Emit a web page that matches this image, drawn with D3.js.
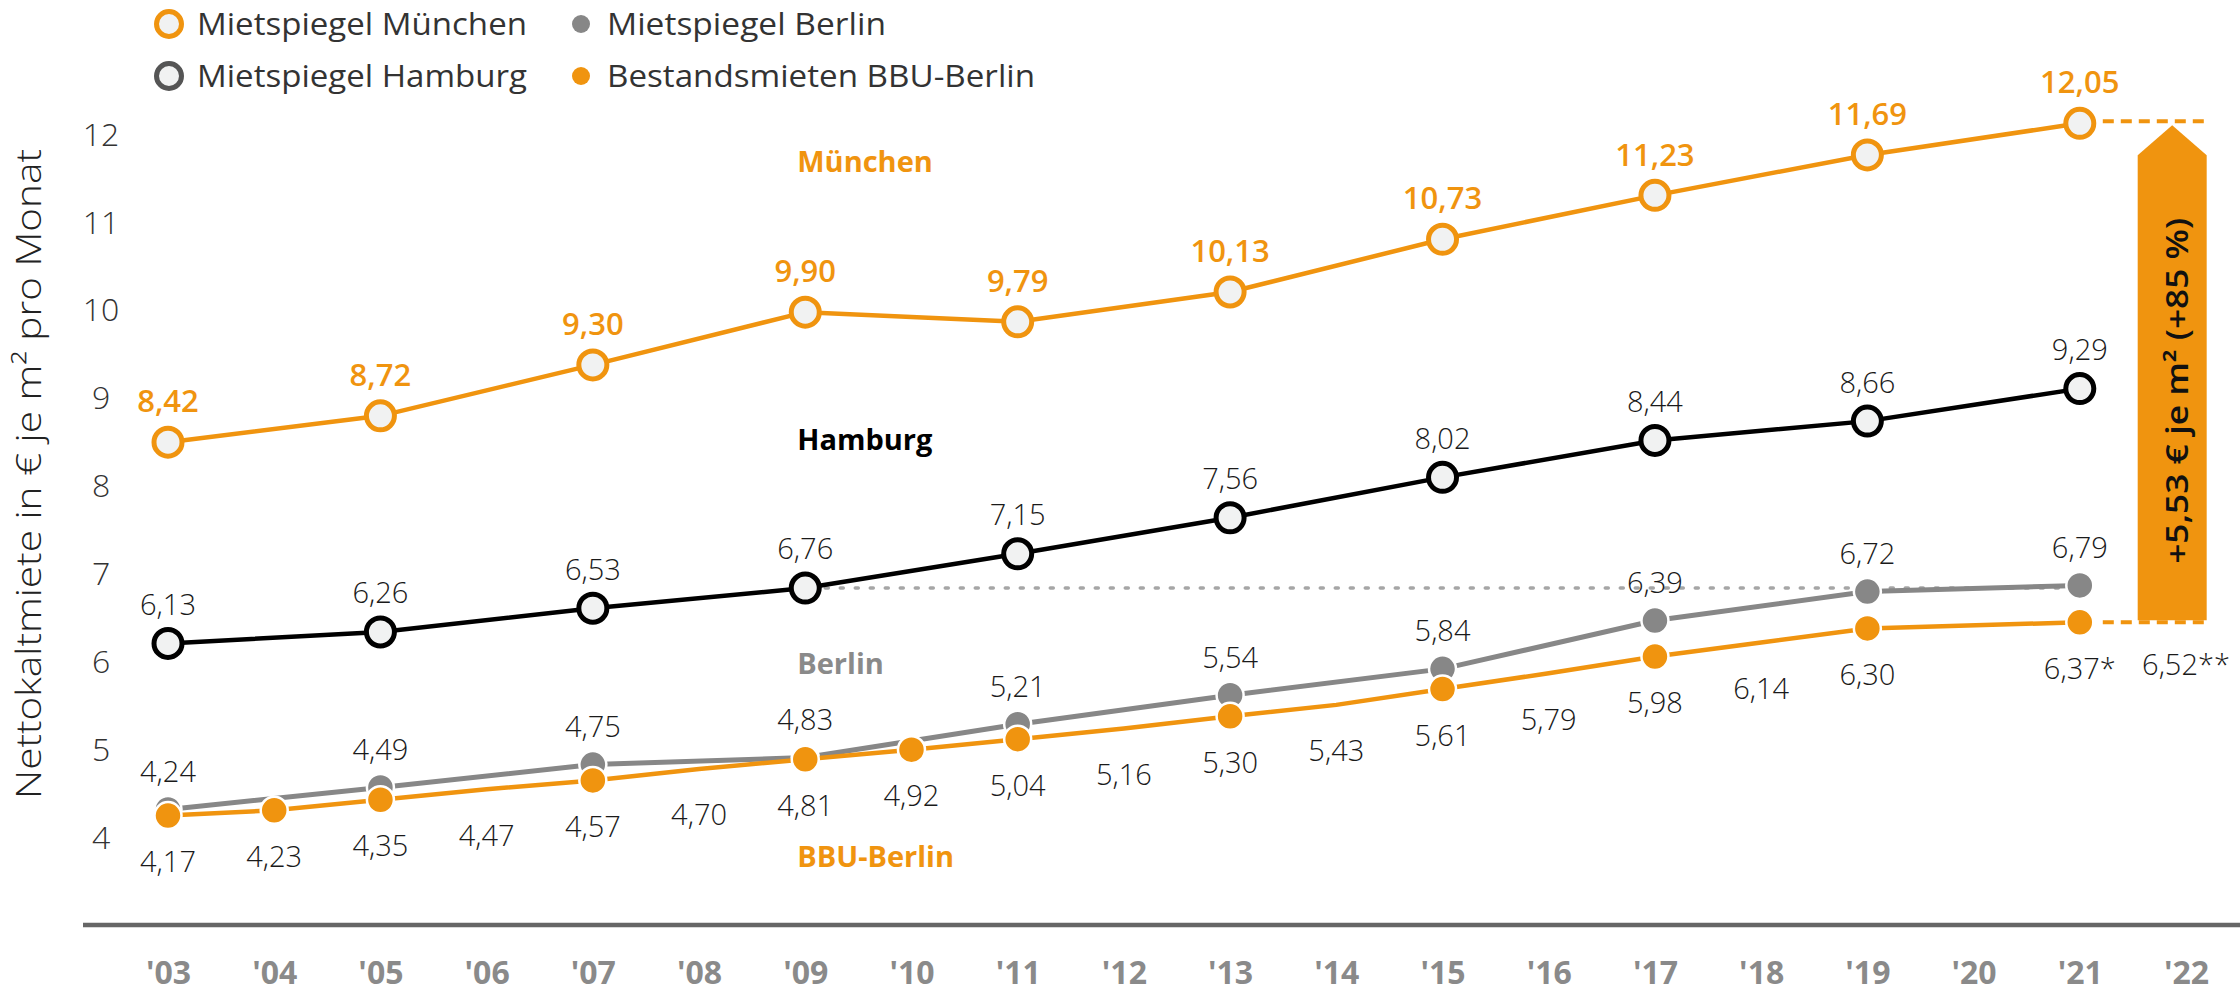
<!DOCTYPE html>
<html><head><meta charset="utf-8">
<script src="https://cdn.jsdelivr.net/npm/d3@7"></script>
<style>
html,body{margin:0;padding:0;background:#fff;}
svg{display:block;font-family:"Open Sans","Noto Sans",sans-serif;}
</style>
</head><body>
<svg id="chart" width="2240" height="995"></svg>
<script>
// ---------- data ----------
const years = ["'03","'04","'05","'06","'07","'08","'09","'10","'11","'12","'13","'14","'15","'16","'17","'18","'19","'20","'21","'22"];
const mietspiegelYears = ["'03","'05","'07","'09","'11","'13","'15","'17","'19","'21"];

const muenchenValues = [8.42, 8.72, 9.30, 9.90, 9.79, 10.13, 10.73, 11.23, 11.69, 12.05];
const muenchenLabels = ["8,42","8,72","9,30","9,90","9,79","10,13","10,73","11,23","11,69","12,05"];

const hamburgValues = [6.13, 6.26, 6.53, 6.76, 7.15, 7.56, 8.02, 8.44, 8.66, 9.03];
const hamburgLabels = ["6,13","6,26","6,53","6,76","7,15","7,56","8,02","8,44","8,66","9,29"];

const berlinValues = [4.24, 4.49, 4.75, 4.83, 5.21, 5.54, 5.84, 6.39, 6.72, 6.79];
const berlinLabels = ["4,24","4,49","4,75","4,83","5,21","5,54","5,84","6,39","6,72","6,79"];

const bbuYears = ["'03","'04","'05","'06","'07","'08","'09","'10","'11","'12","'13","'14","'15","'16","'17","'18","'19","'21"];
const bbuValues = [4.17, 4.23, 4.35, 4.47, 4.57, 4.70, 4.81, 4.92, 5.04, 5.16, 5.30, 5.43, 5.61, 5.79, 5.98, 6.14, 6.30, 6.37];
const bbuLabels = ["4,17","4,23","4,35","4,47","4,57","4,70","4,81","4,92","5,04","5,16","5,30","5,43","5,61","5,79","5,98","6,14","6,30","6,37*"];
const bbuMarkerYears = ["'03","'04","'05","'07","'09","'10","'11","'13","'15","'17","'19","'21"];

const bbuForecastYear = "'22";
const bbuForecastLabel = "6,52**";

const yTicks = [4, 5, 6, 7, 8, 9, 10, 11, 12];

const legendLabels = ["Mietspiegel München", "Mietspiegel Hamburg", "Mietspiegel Berlin", "Bestandsmieten BBU-Berlin"];
const seriesNames = ["München", "Hamburg", "Berlin", "BBU-Berlin"];
const arrowText = "+5,53 € je m² (+85 %)";
const yTitle = "Nettokaltmiete in € je m² pro Monat";

// ---------- style ----------
const ORANGE = "#F0940F";
const GRAY = "#878787";
const BLACK = "#000";
const FILL = "#f1f2f2";

const svg = d3.select("#chart");

const x = d3.scalePoint().domain(years).range([168, 2186]);
const y = d3.scaleLinear().domain([4, 12]).range([830.5, 127.7]);

// ---------- axes ----------
const yAxis = d3.axisLeft(y).tickValues(yTicks).tickSize(0).tickPadding(0).tickFormat(d3.format("d"));
const gy = svg.append("g").attr("transform", "translate(101,6)").call(yAxis);
gy.select(".domain").remove();
gy.selectAll("text")
  .attr("font-family", "'Open Sans', sans-serif")
  .attr("font-size", 32).attr("font-weight", 300).attr("fill", "#333")
  .attr("text-anchor", "middle")
  .attr("dy", "0.36em");

svg.append("line")
  .attr("x1", 83).attr("x2", 2240).attr("y1", 925).attr("y2", 925)
  .attr("stroke", "#666").attr("stroke-width", 4.5);

const xAxis = d3.axisBottom(x).tickSize(0).tickPadding(0);
const gx = svg.append("g").attr("transform", "translate(0,972)").call(xAxis);
gx.select(".domain").remove();
gx.selectAll("text")
  .attr("font-family", "'Open Sans', sans-serif")
  .attr("font-size", 32).attr("font-weight", 700).attr("fill", "#8a8a8a")
  .attr("y", 0).attr("dy", "0.36em");

svg.append("text")
  .attr("transform", `translate(27,474) rotate(-90)`)
  .attr("text-anchor", "middle").attr("dominant-baseline", "central")
  .attr("font-size", 35).attr("font-weight", 300).attr("fill", "#222")
  .attr("textLength", 650).attr("lengthAdjust", "spacingAndGlyphs")
  .text(yTitle);

// ---------- helpers ----------
const zip = (ys, vs, ls) => ys.map((yr, i) => ({year: yr, value: vs[i], label: ls[i]}));
const muenchen = zip(mietspiegelYears, muenchenValues, muenchenLabels);
const hamburg = zip(mietspiegelYears, hamburgValues, hamburgLabels);
const berlin = zip(mietspiegelYears, berlinValues, berlinLabels);
const bbu = zip(bbuYears, bbuValues, bbuLabels);

const line = d3.line().x(d => x(d.year)).y(d => y(d.value));

// dotted reference line: Hamburg 2009 level
const ham09 = hamburg.find(d => d.year === "'09");
svg.append("line")
  .attr("x1", x("'09") + 20).attr("x2", x("'21") - 10)
  .attr("y1", y(ham09.value)).attr("y2", y(ham09.value))
  .attr("stroke", "#a6a6a6").attr("stroke-width", 3.5)
  .attr("stroke-dasharray", "3,12").attr("stroke-linecap", "round");

// ---------- Berlin (Mietspiegel) ----------
svg.append("path").datum(berlin).attr("d", line)
  .attr("fill", "none").attr("stroke", GRAY).attr("stroke-width", 5);
svg.selectAll(".berlinDot").data(berlin).join("circle")
  .attr("cx", d => x(d.year)).attr("cy", d => y(d.value)).attr("r", 13.5)
  .attr("fill", GRAY).attr("stroke", "#fff").attr("stroke-width", 2.5);

// ---------- BBU ----------
svg.append("path").datum(bbu).attr("d", line)
  .attr("fill", "none").attr("stroke", ORANGE).attr("stroke-width", 4.5);
svg.selectAll(".bbuDot").data(bbu.filter(d => bbuMarkerYears.includes(d.year))).join("circle")
  .attr("cx", d => x(d.year)).attr("cy", d => y(d.value)).attr("r", 13.5)
  .attr("fill", ORANGE).attr("stroke", "#fff").attr("stroke-width", 2.5);

// ---------- Hamburg ----------
svg.append("path").datum(hamburg).attr("d", line)
  .attr("fill", "none").attr("stroke", BLACK).attr("stroke-width", 4.5);
svg.selectAll(".hamDot").data(hamburg).join("circle")
  .attr("cx", d => x(d.year)).attr("cy", d => y(d.value)).attr("r", 14)
  .attr("fill", FILL).attr("stroke", BLACK).attr("stroke-width", 5);

// ---------- München ----------
svg.append("path").datum(muenchen).attr("d", line)
  .attr("fill", "none").attr("stroke", ORANGE).attr("stroke-width", 4.5);
svg.selectAll(".muDot").data(muenchen).join("circle")
  .attr("cx", d => x(d.year)).attr("cy", d => y(d.value)).attr("r", 14)
  .attr("fill", FILL).attr("stroke", ORANGE).attr("stroke-width", 5);

// ---------- data labels ----------
function labels(data, dyCenter, color, size, weight) {
  svg.append("g").selectAll("text").data(data).join("text")
    .attr("x", d => x(d.year)).attr("y", d => y(d.value) + dyCenter)
    .attr("dy", "0.36em").attr("text-anchor", "middle")
    .attr("font-size", size).attr("font-weight", weight).attr("fill", color)
    .text(d => d.label);
}
labels(muenchen, -41, ORANGE, 31, 600);
labels(hamburg, -39, "#1a1a1a", 29, 300);
labels(berlin, -38, "#1a1a1a", 29, 300);
labels(bbu, 46, "#1a1a1a", 29, 300);

// ---------- annotation: dashed guides + arrow ----------
const mu21 = muenchen[muenchen.length - 1];
const bb21 = bbu[bbu.length - 1];
const step = x.step();
const arrowCx = x(bbuForecastYear) - 0.13 * step;
const arrowHalf = 34.5;
const arrowRight = arrowCx + arrowHalf;

[[mu21, y(mu21.value) - 2], [bb21, y(bb21.value)]].forEach(([d, yy]) => {
  svg.append("line")
    .attr("x1", x(d.year) + 23).attr("x2", arrowRight)
    .attr("y1", yy).attr("y2", yy)
    .attr("stroke", ORANGE).attr("stroke-width", 4)
    .attr("stroke-dasharray", "11,7");
});

const tipY = y(mu21.value) + 2;
const shoulderY = tipY + 30;
const baseY = y(bb21.value) - 2;
svg.append("path")
  .attr("d", `M${arrowCx},${tipY} L${arrowRight},${shoulderY} L${arrowRight},${baseY} L${arrowCx - arrowHalf},${baseY} L${arrowCx - arrowHalf},${shoulderY} Z`)
  .attr("fill", ORANGE);

svg.append("text")
  .attr("transform", `translate(${arrowCx + 4},${(shoulderY + baseY) / 2 + 3}) rotate(-90)`)
  .attr("text-anchor", "middle").attr("dominant-baseline", "central")
  .attr("font-size", 30).attr("font-weight", 600).attr("fill", "#111")
  .attr("textLength", 346).attr("lengthAdjust", "spacingAndGlyphs")
  .text(arrowText);

svg.append("text")
  .attr("x", x(bbuForecastYear)).attr("y", y(bb21.value) + 42)
  .attr("dy", "0.36em").attr("text-anchor", "middle")
  .attr("font-size", 29).attr("font-weight", 300).attr("fill", "#1a1a1a")
  .text(bbuForecastLabel);

// ---------- series names ----------
const nameX = x("'09") - 8;
const nameLevels = [11.62, 8.45, 5.895, 3.70];
const nameColors = [ORANGE, "#000", "#8a8a8a", ORANGE];
svg.append("g").selectAll("text").data(seriesNames).join("text")
  .attr("x", nameX).attr("y", (d, i) => y(nameLevels[i]))
  .attr("dy", "0.36em")
  .attr("font-size", 29).attr("font-weight", 700)
  .attr("fill", (d, i) => nameColors[i])
  .text(d => d);

// ---------- legend ----------
const legend = [
  {label: legendLabels[0], col: 0, row: 0, type: "ring", color: ORANGE},
  {label: legendLabels[1], col: 0, row: 1, type: "ring", color: "#555"},
  {label: legendLabels[2], col: 1, row: 0, type: "dot", color: GRAY},
  {label: legendLabels[3], col: 1, row: 1, type: "dot", color: ORANGE}
];
const legendLen = [330, 330, 279, 428];
const colX = [169, 581];
const textX = [197, 607];
const rowY = [24, 76];
const lg = svg.append("g");
legend.forEach((d, i) => {
  if (d.type === "ring") {
    lg.append("circle").attr("cx", colX[d.col]).attr("cy", rowY[d.row]).attr("r", 12.5)
      .attr("fill", FILL).attr("stroke", d.color).attr("stroke-width", 5);
  } else {
    lg.append("circle").attr("cx", colX[d.col]).attr("cy", rowY[d.row]).attr("r", 9)
      .attr("fill", d.color);
  }
  lg.append("text").attr("x", textX[d.col]).attr("y", rowY[d.row]).attr("dy", "0.34em")
    .attr("font-size", 31).attr("fill", "#333")
    .attr("textLength", legendLen[i]).attr("lengthAdjust", "spacingAndGlyphs")
    .text(d.label);
});
</script>
</body></html>
